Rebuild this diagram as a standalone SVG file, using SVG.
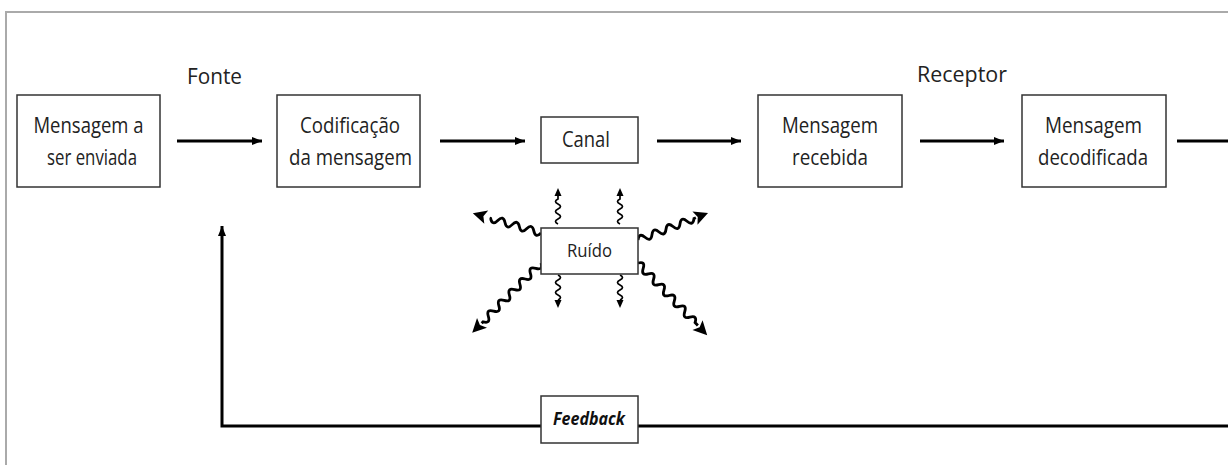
<svg xmlns="http://www.w3.org/2000/svg" width="1228" height="465" viewBox="0 0 1228 465">
<style>
.box{fill:#fff;stroke:#333;stroke-width:1.5}
.t{font-family:"Open Sans","Liberation Sans",sans-serif;font-size:21px;fill:#222;text-anchor:middle}
.fb{font-family:"Open Sans","Liberation Sans",sans-serif;font-size:18px;font-weight:bold;font-style:italic;fill:#111;text-anchor:middle}
.conn{stroke:#000;stroke-width:3;fill:none}
.wb{stroke:#000;stroke-width:2.8;fill:none}
.ws{stroke:#000;stroke-width:1.7;fill:none}
</style>
<defs>
<marker id="ah" markerUnits="userSpaceOnUse" markerWidth="12" markerHeight="10" refX="10" refY="4" orient="auto">
<path d="M0,0 L10,4 L0,8 z" fill="#000"/>
</marker>
<path id="hb" d="M0,-7 L14,0 L0,7 L3,0 z" fill="#000"/>
<path id="hs" d="M0,-3.5 L8,0 L0,3.5 z" fill="#000"/>
</defs>
<rect width="1228" height="465" fill="#fff"/>
<path d="M6,470 L6,12 L1235,12" fill="none" stroke="#aaa" stroke-width="2"/>

<g id="connectors">
<line class="conn" x1="177" y1="141" x2="262" y2="141" marker-end="url(#ah)"/>
<line class="conn" x1="440" y1="141" x2="525" y2="141" marker-end="url(#ah)"/>
<line class="conn" x1="657" y1="141" x2="741" y2="141" marker-end="url(#ah)"/>
<line class="conn" x1="920" y1="141" x2="1004" y2="141" marker-end="url(#ah)"/>
<line class="conn" x1="1177" y1="141" x2="1230" y2="141"/>
<path class="conn" d="M1230,426 L222,426 L222,226" marker-end="url(#ah)"/>
<g transform="translate(541,233) rotate(196.2)">
<path class="wb" d="M0,0 q3.75,-7 7.5,0 t7.5,0 t7.5,0 t7.5,0 t7.5,0 t7.5,0 t7.5,0 l1,0"/>
<use href="#hb" x="57"/>
</g>
<g transform="translate(638,240) rotate(-21)">
<path class="wb" d="M0,0 q3.75,-7 7.5,0 t7.5,0 t7.5,0 t7.5,0 t7.5,0 t7.5,0 t7.5,0 t7.5,0 l2,0"/>
<use href="#hb" x="61"/>
</g>
<g transform="translate(541,263) rotate(134.6)">
<path class="wb" d="M0,0 q3.75,-7 7.5,0 t7.5,0 t7.5,0 t7.5,0 t7.5,0 t7.5,0 t7.5,0 t7.5,0 t7.5,0 t7.5,0 t7.5,0 l2,0"/>
<use href="#hb" x="84"/>
</g>
<g transform="translate(638,263) rotate(46.2)">
<path class="wb" d="M0,0 q3.75,-7 7.5,0 t7.5,0 t7.5,0 t7.5,0 t7.5,0 t7.5,0 t7.5,0 t7.5,0 t7.5,0 t7.5,0 t7.5,0 l4,0"/>
<use href="#hb" x="86"/>
</g>
<g transform="translate(558,224) rotate(-90)">
<path class="ws" d="M0,0 q2.5,-5 5,0 t5,0 t5,0 t5,0 t5,0 l3,0"/>
<use href="#hs" x="28"/>
</g>
<g transform="translate(620,224) rotate(-90)">
<path class="ws" d="M0,0 q2.5,-5 5,0 t5,0 t5,0 t5,0 t5,0 l3,0"/>
<use href="#hs" x="28"/>
</g>
<g transform="translate(558,275) rotate(90)">
<path class="ws" d="M0,0 q2.5,-5 5,0 t5,0 t5,0 t5,0 t5,0 l0,0"/>
<use href="#hs" x="25"/>
</g>
<g transform="translate(620,275) rotate(90)">
<path class="ws" d="M0,0 q2.5,-5 5,0 t5,0 t5,0 t5,0 t5,0 l0,0"/>
<use href="#hs" x="25"/>
</g>
</g>

<text class="t" x="214.5" y="84" textLength="55" lengthAdjust="spacingAndGlyphs">Fonte</text>
<text class="t" x="962" y="82" textLength="90" lengthAdjust="spacingAndGlyphs">Receptor</text>

<g id="n1">
<rect class="box" x="17" y="95" width="143" height="92"/>
<text class="t" x="88.5" y="133" textLength="110" lengthAdjust="spacingAndGlyphs">Mensagem a</text>
<text class="t" x="92" y="165" textLength="90" lengthAdjust="spacingAndGlyphs">ser enviada</text>
</g>
<g id="n2">
<rect class="box" x="277" y="95" width="143" height="92"/>
<text class="t" x="350" y="133" textLength="100" lengthAdjust="spacingAndGlyphs">Codificação</text>
<text class="t" x="350.5" y="165" textLength="123" lengthAdjust="spacingAndGlyphs">da mensagem</text>
</g>
<g id="n3">
<rect class="box" x="541" y="117" width="97" height="46"/>
<text class="t" x="586" y="147" textLength="48" lengthAdjust="spacingAndGlyphs">Canal</text>
</g>
<g id="n4">
<rect class="box" x="541" y="228" width="97" height="46"/>
<text class="t" x="589.5" y="257" style="font-size:19px" textLength="45" lengthAdjust="spacingAndGlyphs">Ruído</text>
</g>
<g id="n5">
<rect class="box" x="758" y="95" width="144" height="92"/>
<text class="t" x="830" y="133" textLength="96" lengthAdjust="spacingAndGlyphs">Mensagem</text>
<text class="t" x="830" y="165" textLength="76" lengthAdjust="spacingAndGlyphs">recebida</text>
</g>
<g id="n6">
<rect class="box" x="1022" y="95" width="144" height="92"/>
<text class="t" x="1093.5" y="133" textLength="97" lengthAdjust="spacingAndGlyphs">Mensagem</text>
<text class="t" x="1093" y="165" textLength="110" lengthAdjust="spacingAndGlyphs">decodificada</text>
</g>
<g id="n7">
<rect class="box" x="541" y="396" width="97" height="47"/>
<text class="fb" x="589" y="425" textLength="72" lengthAdjust="spacingAndGlyphs">Feedback</text>
</g>
</svg>
